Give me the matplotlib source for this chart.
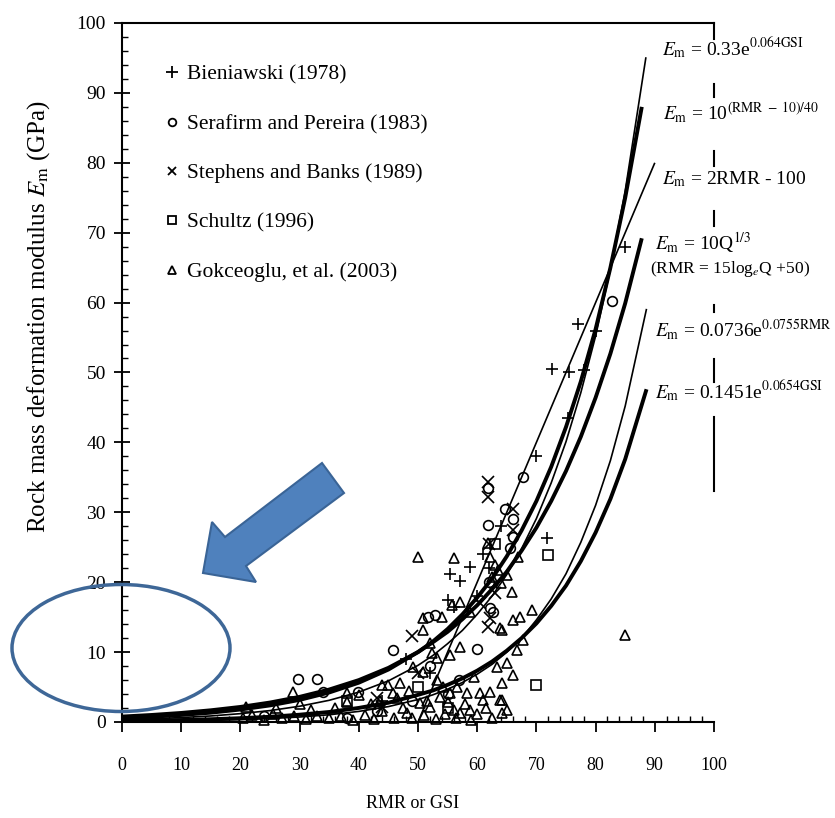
import matplotlib
matplotlib.use("Agg")
import matplotlib.pyplot as plt
from matplotlib.lines import Line2D
from matplotlib.patches import Polygon, Ellipse
from matplotlib.ticker import MultipleLocator

plt.rcParams['font.family'] = ['Liberation Serif', 'DejaVu Serif']
plt.rcParams['mathtext.fontset'] = 'stix'

# ---- data ----
bien_x = [85, 77, 80, 72.7, 75.5, 78, 75.3, 70, 71.8, 58.8, 55.4, 57.1, 55, 62, 60, 56, 61, 64, 48, 44, 52]
bien_y = [68, 57, 56, 50.5, 50, 50.4, 43.5, 38, 26.3, 22.2, 21.2, 20.1, 17.5, 22, 18, 16.5, 24, 28, 9, 3, 7]

sera_x = [29.7, 33, 34, 39.9, 45.8, 60, 51.7, 52.8, 62.2, 62.7, 61.8, 61.8, 64.7, 66, 66, 65.5, 67.8, 82.8,
          62, 52, 55, 49, 57, 43, 24, 38]
sera_y = [6.2, 6.2, 4.3, 4.3, 10.3, 10.5, 15, 15.3, 16.3, 15.8, 33.5, 28.2, 30.5, 29, 26.5, 24.9, 35.1, 60.2,
          20, 8, 4, 3, 6, 1.5, 0.8, 0.5]

step_x = [49, 61.8, 61.8, 66, 62.2, 61.8, 43, 44, 66, 62, 63, 60.5, 50]
step_y = [12.3, 34.4, 32.2, 30.4, 14.9, 13.6, 3.4, 2.2, 27.5, 25.5, 18.5, 17, 7]

schu_x = [72, 70, 63, 50, 38, 55]
schu_y = [23.9, 5.3, 25.5, 5, 3, 2]

gokc_x = [85, 50, 56, 61.8, 62.2, 63, 63.5, 62.5, 64, 65.9, 66.9, 65, 55.7, 57.1, 58.8, 63.9, 66, 67.2, 69.3,
          64.2, 67.7, 66.7, 65, 66, 64.2, 64.2, 64.2, 63.3, 50.8, 54, 50.8, 52, 57.1, 55.4, 52.4, 53.2, 49.2,
          47, 50.8, 53.2, 54.2, 56.6, 58.3, 60.5, 62.2, 63.9, 65, 58.8, 61, 45.8, 48.1, 50.3, 52, 53.7, 55.4,
          56, 57.1, 28.9, 44, 45, 38, 38, 32,
          20.5, 22, 24, 25.5, 27, 29, 31, 33, 35, 37, 39, 41, 42.5, 44, 46, 47.5, 49, 51, 53, 54.5, 56.5, 59,
          60, 62.5, 40, 42, 36, 30, 26, 21, 43.5, 46.5, 48.5, 51.5, 55, 58, 59.5, 61.5]
gokc_y = [12.5, 23.6, 23.5, 25.6, 23.6, 22.5, 21.8, 20.8, 19.9, 18.6, 23.6, 21, 16.8, 17.2, 15.8, 13.5, 14.6,
          15, 16, 13.2, 11.7, 10.3, 8.5, 6.7, 5.6, 3.2, 1.3, 7.9, 14.9, 15, 13.2, 11.3, 10.7, 9.6, 9.9, 9.2,
          7.9, 5.6, 7.2, 6, 5, 5, 4.2, 4.2, 4.3, 3.2, 1.7, 1.7, 3.2, 4.2, 1.3, 2.7, 2.2, 3.6, 4.2, 1.7, 1.3,
          4.3, 5.3, 5.3, 4.2, 2.9, 1.7,
          0.5, 1, 0.3, 1.2, 0.5, 0.8, 0.4, 0.9, 0.5, 0.8, 0.3, 1, 0.4, 1.5, 0.6, 2, 0.5, 1, 0.4, 1.2, 0.5, 0.3,
          1.1, 0.5, 3.8, 2.5, 2, 2.5, 2, 2.2, 3, 3.5, 4.5, 3, 2.8, 2.5, 6.5, 2]

# curves (RMR or GSI vs Em)
cx = [0, 5, 10, 15, 20, 25, 30, 35, 40, 45, 50, 52.5, 55, 57.5, 60, 62.5, 65, 67.5, 70, 72.5, 75, 77.5,
      80, 82.5, 85]
c1_x = cx + [88.5]
c1_y = [0.33, 0.45, 0.63, 0.86, 1.19, 1.63, 2.25, 3.10, 4.27, 5.88, 8.1, 9.5, 11.2, 13.1, 15.4, 18.0, 21.1,
        24.8, 29.1, 34.2, 40.1, 47.1, 55.2, 64.8, 76.0, 95.1]
c2_x = cx + [87.8]
c2_y = [0.56, 0.75, 1, 1.33, 1.78, 2.37, 3.16, 4.22, 5.62, 7.5, 10, 11.5, 13.3, 15.4, 17.8, 20.5, 23.7, 27.4,
        31.6, 36.5, 42.2, 48.7, 56.2, 65.0, 75.0, 88.0]
c3_x = [50, 90]
c3_y = [0, 80]
c4_x = cx + [87.8]
c4_y = [0.77, 1.0, 1.29, 1.67, 2.15, 2.78, 3.59, 4.64, 5.99, 7.74, 10, 11.4, 12.9, 14.7, 16.7, 19.0, 21.5,
        24.5, 27.8, 31.6, 35.9, 40.8, 46.4, 52.7, 59.9, 69.2]
c5_x = cx + [88.6]
c5_y = [0.07, 0.11, 0.16, 0.23, 0.33, 0.49, 0.71, 1.03, 1.51, 2.20, 3.21, 3.88, 4.69, 5.65, 6.84, 8.24, 9.98,
        12.0, 14.6, 17.6, 21.2, 25.7, 31.0, 37.4, 45.2, 59.1]
c6_x = cx + [88.6]
c6_y = [0.15, 0.20, 0.28, 0.39, 0.54, 0.74, 1.04, 1.43, 2.01, 2.75, 3.88, 4.50, 5.31, 6.24, 7.34, 8.64, 10.2,
        12.0, 14.1, 16.6, 19.5, 23.0, 27.1, 31.9, 37.6, 47.6]

legend_labels = ["Bieniawski (1978)", "Serafirm and Pereira (1983)", "Stephens and Banks (1989)",
                 "Schultz (1996)", "Gokceoglu, et al. (2003)"]
eq_labels = [r"$E_\mathrm{m}$ = 0.33e$^{0.064\mathrm{GSI}}$",
             r"$E_\mathrm{m}$ = 10$^{(\mathrm{RMR\ -\ 10)/40}}$",
             r"$E_\mathrm{m}$ = 2RMR - 100",
             r"$E_\mathrm{m}$ = 10Q$^{1/3}$",
             r"(RMR = 15log$_e$Q +50)",
             r"$E_\mathrm{m}$ = 0.0736e$^{0.0755\mathrm{RMR}}$",
             r"$E_\mathrm{m}$ = 0.1451e$^{0.0654\mathrm{GSI}}$"]
eq_x = [91.2, 91.4, 91.2, 90.0, 89.2, 90.0, 90.0]
eq_y = [96.3, 87.2, 77.7, 68.6, 64.8, 56.2, 47.3]
eq_size = [14, 14, 14, 14, 12.5, 14, 14]

# right border pieces between the equations
right_segs = [(100, 97.7), (91.3, 89.4), (81.7, 79.5), (73.1, 70.9), (59.7, 58.7), (51.9, 48.7), (43.7, 33.0)]

fig = plt.figure(figsize=(8.35, 8.18), dpi=100)
ax = fig.add_axes([0.1461, 0.1174, 0.7090, 0.8545])

k = dict(color='black', solid_capstyle='butt', solid_joinstyle='round')
ax.plot(c1_x, c1_y, lw=1.2, **k)
ax.plot(c2_x, c2_y, lw=2.8, **k)
ax.plot(c3_x, c3_y, lw=1.2, **k)
ax.plot(c4_x, c4_y, lw=2.8, **k)
ax.plot(c5_x, c5_y, lw=1.2, **k)
ax.plot(c6_x, c6_y, lw=2.8, **k)

mk = dict(linestyle='none', color='black', markerfacecolor='none', markeredgewidth=1.2, clip_on=False)
ax.plot(bien_x, bien_y, marker='+', markersize=9, **mk)
ax.plot(sera_x, sera_y, marker='o', markersize=7, **mk)
ax.plot(step_x, step_y, marker='x', markersize=8, **mk)
ax.plot(schu_x, schu_y, marker='s', markersize=7, **mk)
ax.plot(gokc_x, gokc_y, marker='^', markersize=7.5, **mk)

ax.set_xlim(0, 100)
ax.set_ylim(0, 100)
ax.spines['right'].set_visible(False)
for s in ['left', 'bottom', 'top']:
    ax.spines[s].set_linewidth(1.5)
for a, b in right_segs:
    ax.plot([100, 100], [a, b], color='black', lw=1.5, clip_on=False)

ax.xaxis.set_major_locator(MultipleLocator(10))
ax.xaxis.set_minor_locator(MultipleLocator(2))
ax.yaxis.set_major_locator(MultipleLocator(10))
ax.yaxis.set_minor_locator(MultipleLocator(2))
ax.tick_params(axis='x', which='major', direction='out', length=7, width=1.3, pad=18, labelsize=13)
ax.tick_params(axis='x', which='minor', direction='in', length=4, width=1.0)
ax.tick_params(axis='y', which='major', direction='inout', length=11, width=1.3, pad=6, labelsize=14)
ax.tick_params(axis='y', which='minor', direction='in', length=4, width=1.0)

ax.set_xlabel("RMR or GSI", fontsize=13, labelpad=15)
ax.xaxis.set_label_coords(0.49, -0.105)
ax.set_ylabel(r"Rock mass deformation modulus $E_\mathrm{m}$ (GPa)", fontsize=18)
ax.yaxis.set_label_coords(-0.118, 0.58)

for t, x, y, s in zip(eq_labels, eq_x, eq_y, eq_size):
    ax.text(x, y, t, fontsize=s, ha='left', va='center', clip_on=False)

handles = [Line2D([], [], marker=m, linestyle='none', color='black', markerfacecolor='none',
                  markersize=ms, markeredgewidth=1.3)
           for m, ms in zip(['+', 'o', 'x', 's', '^'], [8, 5.5, 6, 5.5, 6])]
ax.legend(handles, legend_labels, loc='upper left', bbox_to_anchor=(0.04, 0.968), frameon=False,
          fontsize=15.5, handlelength=0.6, handletextpad=0.4, labelspacing=1.36)

# blue callout: arrow and ellipse (figure pixels, origin top-left)
W, H = 835, 818
arrow_px = [(203, 573), (212, 522), (225, 537), (322, 463), (344, 493), (246, 566), (256, 582)]
fig.patches.append(Polygon([(x / W, 1 - y / H) for x, y in arrow_px], closed=True,
                           transform=fig.transFigure, facecolor='#4f81bd', edgecolor='#3a6496', lw=1.5))
fig.patches.append(Ellipse((121 / W, 1 - 648 / H), 218 / W, 127 / H, transform=fig.transFigure,
                           facecolor='none', edgecolor='#3e6797', lw=2.5))

fig.savefig("out.png", dpi=100)
